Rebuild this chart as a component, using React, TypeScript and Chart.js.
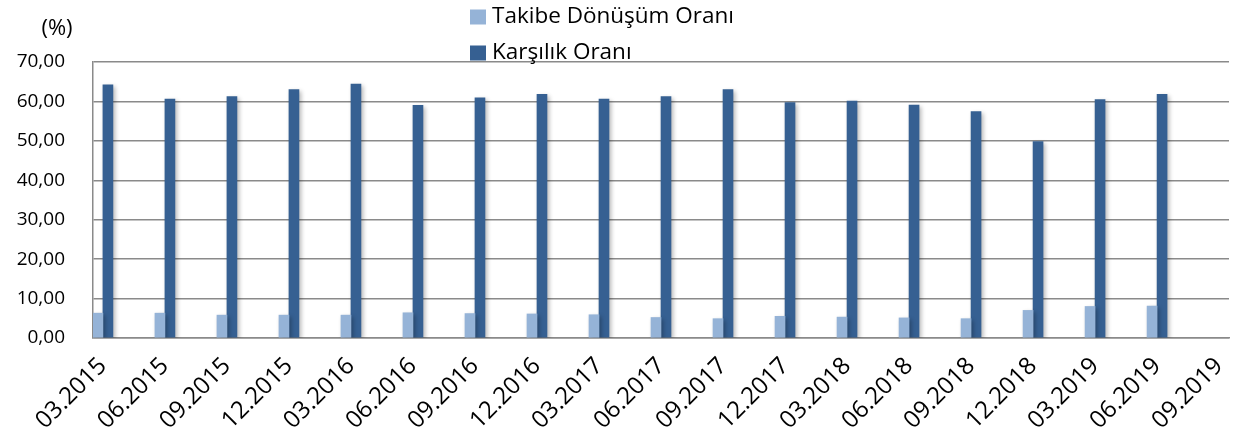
import React, { useEffect, useRef } from "react";
import { Chart, registerables } from "chart.js";

Chart.register(...registerables);

const periods = [
  "03.2015", "06.2015", "09.2015", "12.2015",
  "03.2016", "06.2016", "09.2016", "12.2016",
  "03.2017", "06.2017", "09.2017", "12.2017",
  "03.2018", "06.2018", "09.2018", "12.2018",
  "03.2019", "06.2019", "09.2019",
];

const takibeDonusum = [
  6.3, 6.3, 5.8, 5.8, 5.8, 6.4, 6.2, 6.1, 5.9, 5.2,
  4.9, 5.5, 5.3, 5.1, 4.9, 7.0, 8.0, 8.1, null,
];

const karsilik = [
  64.2, 60.6, 61.2, 63.0, 64.4, 59.0, 60.9, 61.8, 60.6, 61.2,
  63.0, 59.7, 60.1, 59.1, 57.4, 49.8, 60.5, 61.8, null,
];

const seriesNames = ["Takibe Dönüşüm Oranı", "Karşılık Oranı"];
const seriesColors = ["#95B3D7", "#366092"];
const yTicks = [0, 10, 20, 30, 40, 50, 60, 70];

const FONT = "'Open Sans', 'Noto Sans', sans-serif";

export default function App() {
  const ref = useRef<HTMLCanvasElement | null>(null);

  useEffect(() => {
    document.body.style.margin = "0";
    const canvas = ref.current;
    if (!canvas) return;

    const toPoints = (arr: (number | null)[]) =>
      arr.map((v, i) => ({ x: i, y: v }));

    const shadowPlugin = {
      id: "barShadow",
      beforeDatasetsDraw(chart: any) {
        const ctx = chart.ctx;
        ctx.save();
        ctx.shadowColor = "rgba(0,0,0,0.28)";
        ctx.shadowBlur = 4;
        ctx.shadowOffsetX = 2;
        ctx.shadowOffsetY = 2;
      },
      afterDatasetsDraw(chart: any) {
        chart.ctx.restore();
      },
    };

    const legendPlugin = {
      id: "customLegend",
      afterDraw(chart: any) {
        const ctx = chart.ctx;
        ctx.save();
        ctx.font = `22.5px ${FONT}`;
        ctx.textBaseline = "middle";
        ctx.textAlign = "left";
        const rows = [17, 53];
        seriesNames.forEach((name, i) => {
          ctx.fillStyle = seriesColors[i];
          ctx.fillRect(470, rows[i] - 7.5, 16, 15);
          ctx.fillStyle = "#000";
          ctx.fillText(name, 492, rows[i]);
        });
        ctx.font = `22px ${FONT}`;
        ctx.textAlign = "center";
        ctx.fillText("(%)", 57, 29);
        ctx.restore();
      },
    };

    const chart = new Chart(canvas, {
      type: "bar",
      data: {
        datasets: [
          {
            label: seriesNames[0],
            data: toPoints(takibeDonusum) as any,
            backgroundColor: seriesColors[0],
            barThickness: 10,
          },
          {
            label: seriesNames[1],
            data: toPoints(karsilik) as any,
            backgroundColor: seriesColors[1],
            barThickness: 10,
          },
        ],
      },
      options: {
        responsive: false,
        animation: false,
        layout: { padding: { top: 62, right: 4, left: 0, bottom: 0 } },
        plugins: {
          legend: { display: false },
          tooltip: { enabled: false },
        },
        scales: {
          x: {
            type: "linear",
            min: -0.16,
            max: 18.16,
            offset: false,
            grid: { display: false, drawTicks: false },
            border: { display: true, color: "#8a8a8a", width: 1.5 },
            afterBuildTicks: (axis: any) => {
              axis.ticks = periods.map((_, i) => ({ value: i }));
            },
            afterFit: (axis: any) => {
              axis.height = 99;
              axis.paddingLeft = 0;
              axis.paddingRight = 0;
            },
            ticks: {
              autoSkip: false,
              maxRotation: 45,
              minRotation: 45,
              padding: 14,
              color: "#000",
              font: { family: FONT, size: 24 },
              callback: (v: any) => periods[Math.round(Number(v))] ?? "",
            },
          },
          y: {
            min: 0,
            max: 70,
            afterBuildTicks: (axis: any) => {
              axis.ticks = yTicks.map((v) => ({ value: v }));
            },
            afterFit: (axis: any) => {
              axis.width = 93;
              axis.paddingTop = 0;
              axis.paddingBottom = 0;
            },
            grid: { color: "#8a8a8a", lineWidth: 1.5, drawTicks: false },
            border: { display: true, color: "#8a8a8a", width: 1.5 },
            ticks: {
              padding: 28,
              color: "#000",
              font: { family: FONT, size: 19 },
              callback: (v: any) => Number(v).toFixed(2).replace(".", ","),
            },
          },
        },
      },
      plugins: [shadowPlugin, legendPlugin],
    });

    return () => chart.destroy();
  }, []);

  return (
    <div style={{ width: 1233, height: 437 }}>
      <canvas ref={ref} width={1233} height={437} />
    </div>
  );
}
